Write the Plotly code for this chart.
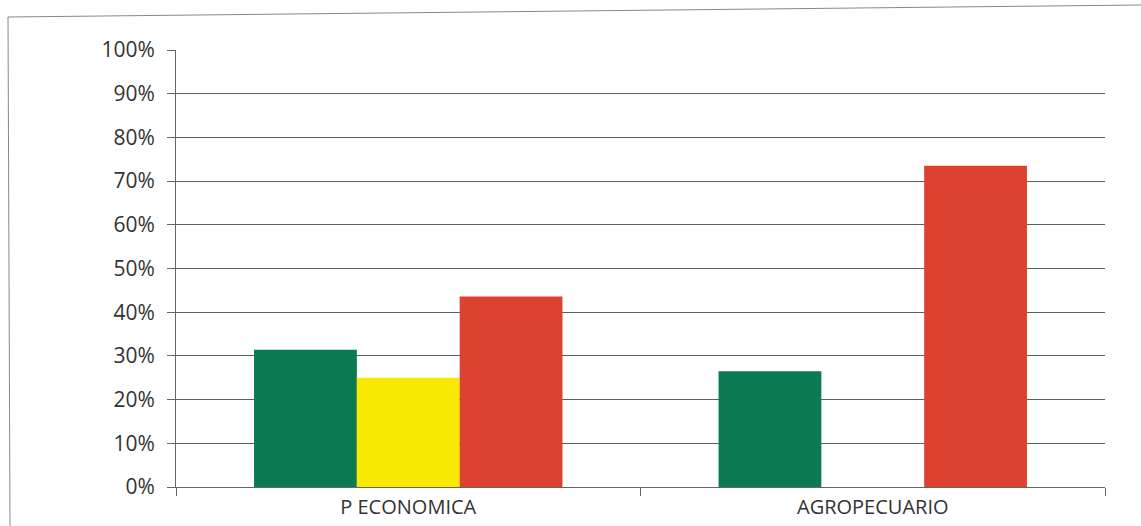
import plotly.graph_objects as go

categories = ["P ECONOMICA", "AGROPECUARIO"]
series_names = ["Verde", "Amarillo", "Rojo"]
green_vals = [0.314, 0.265]
yellow_vals = [0.250, 0.0]
red_vals = [0.436, 0.735]
colors = ["#0b7a52", "#f9e800", "#dd4231"]

W, H = 1141, 526
L, R, T, B = 176, 36, 50, 39
pw, ph = W - L - R, H - T - B

def px(x):
    return (x - L) / pw

def py(y):
    return (H - B - y) / ph

fig = go.Figure()
for name, vals, c in zip(series_names, [green_vals, yellow_vals, red_vals], colors):
    fig.add_trace(go.Bar(x=categories, y=vals, name=name, marker_color=c,
                         marker_line_width=0, showlegend=False))

fig.update_layout(
    width=W, height=H,
    margin=dict(l=L, r=R, t=T, b=B),
    plot_bgcolor="white", paper_bgcolor="white",
    barmode="group", bargap=0.336, bargroupgap=0,
    font=dict(family="Open Sans, Liberation Sans, sans-serif", size=21, color="#333333"),
    xaxis=dict(showline=True, linecolor="#666666", linewidth=1,
               ticks="outside", tickson="boundaries", ticklen=8, tickcolor="#666666",
               ticklabelstandoff=2, automargin=False,
               tickfont=dict(size=20, color="#333333"), showgrid=False),
    yaxis=dict(range=[0, 1], dtick=0.1, tickformat=".0%",
               showline=True, linecolor="#666666", linewidth=1,
               ticks="outside", ticklen=8, tickcolor="#666666",
               ticklabelstandoff=8, automargin=False,
               gridcolor="#5e5e5e", gridwidth=1.2,
               tickfont=dict(size=21, color="#333333"), zeroline=False),
    shapes=[
        dict(type="line", xref="paper", yref="paper",
             x0=px(8), y0=py(17), x1=px(1141), y1=py(5),
             line=dict(color="#888888", width=1)),
        dict(type="line", xref="paper", yref="paper",
             x0=px(8), y0=py(17), x1=px(10), y1=py(526),
             line=dict(color="#888888", width=1)),
    ],
)

fig.write_html("out.html", config={"displayModeBar": False},
               post_script="document.body.style.margin='0';")
